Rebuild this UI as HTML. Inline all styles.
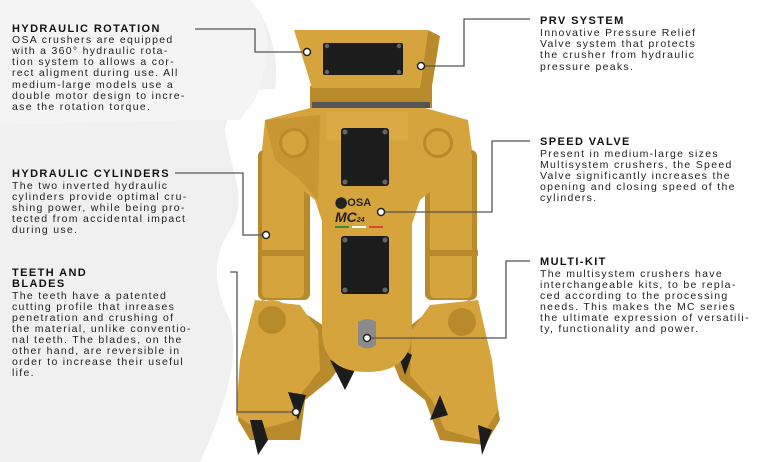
<!DOCTYPE html>
<html><head><meta charset="utf-8"><style>
html,body{margin:0;padding:0;background:#fff;}
svg{display:block}
.h{font-family:"Liberation Sans",sans-serif;font-weight:bold;font-size:11px;letter-spacing:1.4px;fill:#111}
.b{font-family:"Liberation Sans",sans-serif;font-size:10.5px;letter-spacing:1.3px;fill:#222}
.ln{stroke:#555;stroke-width:1.3;fill:none}
.dot{fill:#fff;stroke:#222;stroke-width:1.5}
.y{fill:#d6a43c}
.yd{fill:#b98a2c}
.yl{fill:#e3b553}
.blk{fill:#1c1c1c}
.bolt{fill:#666}
</style></head><body>
<svg width="760" height="462" viewBox="0 0 760 462" xmlns="http://www.w3.org/2000/svg">
<path d="M0 0 H250 C270 20 280 60 275 90 C250 85 230 100 225 130 C230 170 250 200 230 230 C210 260 215 290 230 320 C240 360 225 400 210 440 L200 462 H0 Z" fill="#f0f0f0"/>
<path d="M0 0 H250 C275 30 270 60 255 100 L240 120 L200 120 L0 125 Z" fill="#f4f4f4"/>

<path class="yd" d="M262 300 L245 360 L238 420 L250 440 L300 440 L305 400 L330 380 L345 360 L330 330 L300 310 Z"/>
<path class="y" d="M255 300 L240 360 L236 415 L258 430 L295 420 L300 395 L320 370 L318 330 L300 305 Z"/>
<path class="yd" d="M470 300 L490 360 L500 420 L485 445 L440 440 L425 400 L400 380 L390 355 L405 330 L430 310 Z"/>
<path class="y" d="M478 300 L492 360 L498 410 L480 440 L445 430 L432 400 L410 375 L412 330 L430 305 Z"/>
<path class="blk" d="M250 420 L258 455 L268 440 L262 420 Z"/>
<path class="blk" d="M288 392 L298 420 L306 395 Z"/>
<path class="blk" d="M440 395 L430 420 L448 415 Z"/>
<path class="blk" d="M478 425 L482 455 L492 430 Z"/>
<path class="blk" d="M330 360 L345 390 L355 370 Z"/>
<path class="blk" d="M395 345 L405 375 L412 355 Z"/>
<rect class="yd" x="258" y="150" width="52" height="150" rx="6"/>
<rect class="y" x="262" y="150" width="42" height="148" rx="5"/>
<rect class="yd" x="258" y="250" width="50" height="6"/>
<rect class="yd" x="425" y="150" width="52" height="150" rx="6"/>
<rect class="y" x="430" y="150" width="42" height="148" rx="5"/>
<rect class="yd" x="428" y="250" width="50" height="6"/>
<circle class="y" cx="272" cy="320" r="20"/><circle class="yd" cx="272" cy="320" r="14"/>
<circle class="y" cx="462" cy="322" r="20"/><circle class="yd" cx="462" cy="322" r="14"/>
<path class="y" d="M265 120 L310 108 L425 108 L468 120 L472 150 L455 172 L420 200 L410 230 L325 230 L315 200 L280 172 L262 150 Z"/>
<path class="yd" d="M265 120 L275 160 L300 180 L318 200 L320 115 Z" opacity="0.5"/>
<circle class="yd" cx="294" cy="143" r="15"/><circle class="y" cx="294" cy="143" r="12"/>
<circle class="yd" cx="438" cy="143" r="15"/><circle class="y" cx="438" cy="143" r="12"/>
<path class="y" d="M322 110 H412 V330 Q412 372 367 372 Q322 372 322 330 Z"/>
<path class="yl" d="M326 112 H408 V140 H326 Z" opacity="0.4"/>
<rect class="blk" x="341" y="128" width="48" height="58" rx="3"/>
<rect class="blk" x="341" y="236" width="48" height="58" rx="3"/>
<circle class="bolt" cx="345" cy="132" r="2.5"/><circle class="bolt" cx="385" cy="132" r="2.5"/><circle class="bolt" cx="345" cy="182" r="2.5"/><circle class="bolt" cx="385" cy="182" r="2.5"/>
<circle class="bolt" cx="345" cy="240" r="2.5"/><circle class="bolt" cx="385" cy="240" r="2.5"/><circle class="bolt" cx="345" cy="290" r="2.5"/><circle class="bolt" cx="385" cy="290" r="2.5"/>
<text x="335" y="206" font-family="Liberation Sans,sans-serif" font-weight="bold" font-size="11" fill="#222">⬤OSA</text>
<text x="335" y="222" font-family="Liberation Sans,sans-serif" font-weight="bold" font-style="italic" font-size="14" fill="#222">MC<tspan font-size="7">24</tspan></text>
<rect x="335" y="226" width="14" height="2" fill="#3a8a3a"/><rect x="352" y="226" width="14" height="2" fill="#fff"/><rect x="369" y="226" width="14" height="2" fill="#d43"/>
<path d="M358 322 Q368 316 376 322 L376 345 Q368 352 358 345 Z" fill="#8a8a8a"/>
<rect class="yd" x="310" y="86" width="122" height="22"/>
<rect x="312" y="102" width="118" height="6" fill="#555"/>
<path class="y" d="M294 30 H428 L420 88 H312 Z"/>
<path class="yd" d="M428 30 L440 36 L432 86 L420 88 Z"/>
<rect class="blk" x="323" y="43" width="80" height="32" rx="2"/>
<circle class="bolt" cx="327" cy="46" r="2.2"/><circle class="bolt" cx="399" cy="46" r="2.2"/><circle class="bolt" cx="327" cy="72" r="2.2"/><circle class="bolt" cx="399" cy="72" r="2.2"/>

<path class="ln" d="M195 29 H255 V52 H307"/>
<path class="ln" d="M421 66 H464 V19 H530"/>
<path class="ln" d="M381 212 H492 V141 H530"/>
<path class="ln" d="M175 173 H243 V235 H266"/>
<path class="ln" d="M230 272 H237 V412 H296"/>
<path class="ln" d="M367 338 H506 V261 H530"/>
<circle class="dot" cx="307" cy="52" r="3.5"/>
<circle class="dot" cx="421" cy="66" r="3.5"/>
<circle class="dot" cx="381" cy="212" r="3.5"/>
<circle class="dot" cx="266" cy="235" r="3.5"/>
<circle class="dot" cx="296" cy="412" r="3.5"/>
<circle class="dot" cx="367" cy="338" r="3.5"/>

<text class="h" x="12" y="32">HYDRAULIC ROTATION</text>
<text class="b" x="12" y="43">OSA crushers are equipped</text>
<text class="b" x="12" y="54">with a 360° hydraulic rota-</text>
<text class="b" x="12" y="65">tion system to allows a cor-</text>
<text class="b" x="12" y="76">rect aligment during use. All</text>
<text class="b" x="12" y="88">medium-large models use a</text>
<text class="b" x="12" y="99">double motor design to incre-</text>
<text class="b" x="12" y="110">ase the rotation torque.</text>

<text class="h" x="12" y="177">HYDRAULIC CYLINDERS</text>
<text class="b" x="12" y="189">The two inverted hydraulic</text>
<text class="b" x="12" y="200">cylinders provide optimal cru-</text>
<text class="b" x="12" y="211">shing power, while being pro-</text>
<text class="b" x="12" y="222">tected from accidental impact</text>
<text class="b" x="12" y="233">during use.</text>

<text class="h" x="12" y="276">TEETH AND</text>
<text class="h" x="12" y="287">BLADES</text>
<text class="b" x="12" y="299">The teeth have a patented</text>
<text class="b" x="12" y="310">cutting profile that inreases</text>
<text class="b" x="12" y="321">penetration and crushing of</text>
<text class="b" x="12" y="332">the material, unlike conventio-</text>
<text class="b" x="12" y="343">nal teeth. The blades, on the</text>
<text class="b" x="12" y="354">other hand, are reversible in</text>
<text class="b" x="12" y="365">order to increase their useful</text>
<text class="b" x="12" y="376">life.</text>

<text class="h" x="540" y="24">PRV SYSTEM</text>
<text class="b" x="540" y="36">Innovative Pressure Relief</text>
<text class="b" x="540" y="47">Valve system that protects</text>
<text class="b" x="540" y="58">the crusher from hydraulic</text>
<text class="b" x="540" y="70">pressure peaks.</text>

<text class="h" x="540" y="145">SPEED VALVE</text>
<text class="b" x="540" y="157">Present in medium-large sizes</text>
<text class="b" x="540" y="168">Multisystem crushers, the Speed</text>
<text class="b" x="540" y="179">Valve significantly increases the</text>
<text class="b" x="540" y="190">opening and closing speed of the</text>
<text class="b" x="540" y="201">cylinders.</text>

<text class="h" x="540" y="265">MULTI-KIT</text>
<text class="b" x="540" y="277">The multisystem crushers have</text>
<text class="b" x="540" y="288">interchangeable kits, to be repla-</text>
<text class="b" x="540" y="299">ced according to the processing</text>
<text class="b" x="540" y="310">needs. This makes the MC series</text>
<text class="b" x="540" y="321">the ultimate expression of versatili-</text>
<text class="b" x="540" y="332">ty, functionality and power.</text>
</svg>
</body></html>
